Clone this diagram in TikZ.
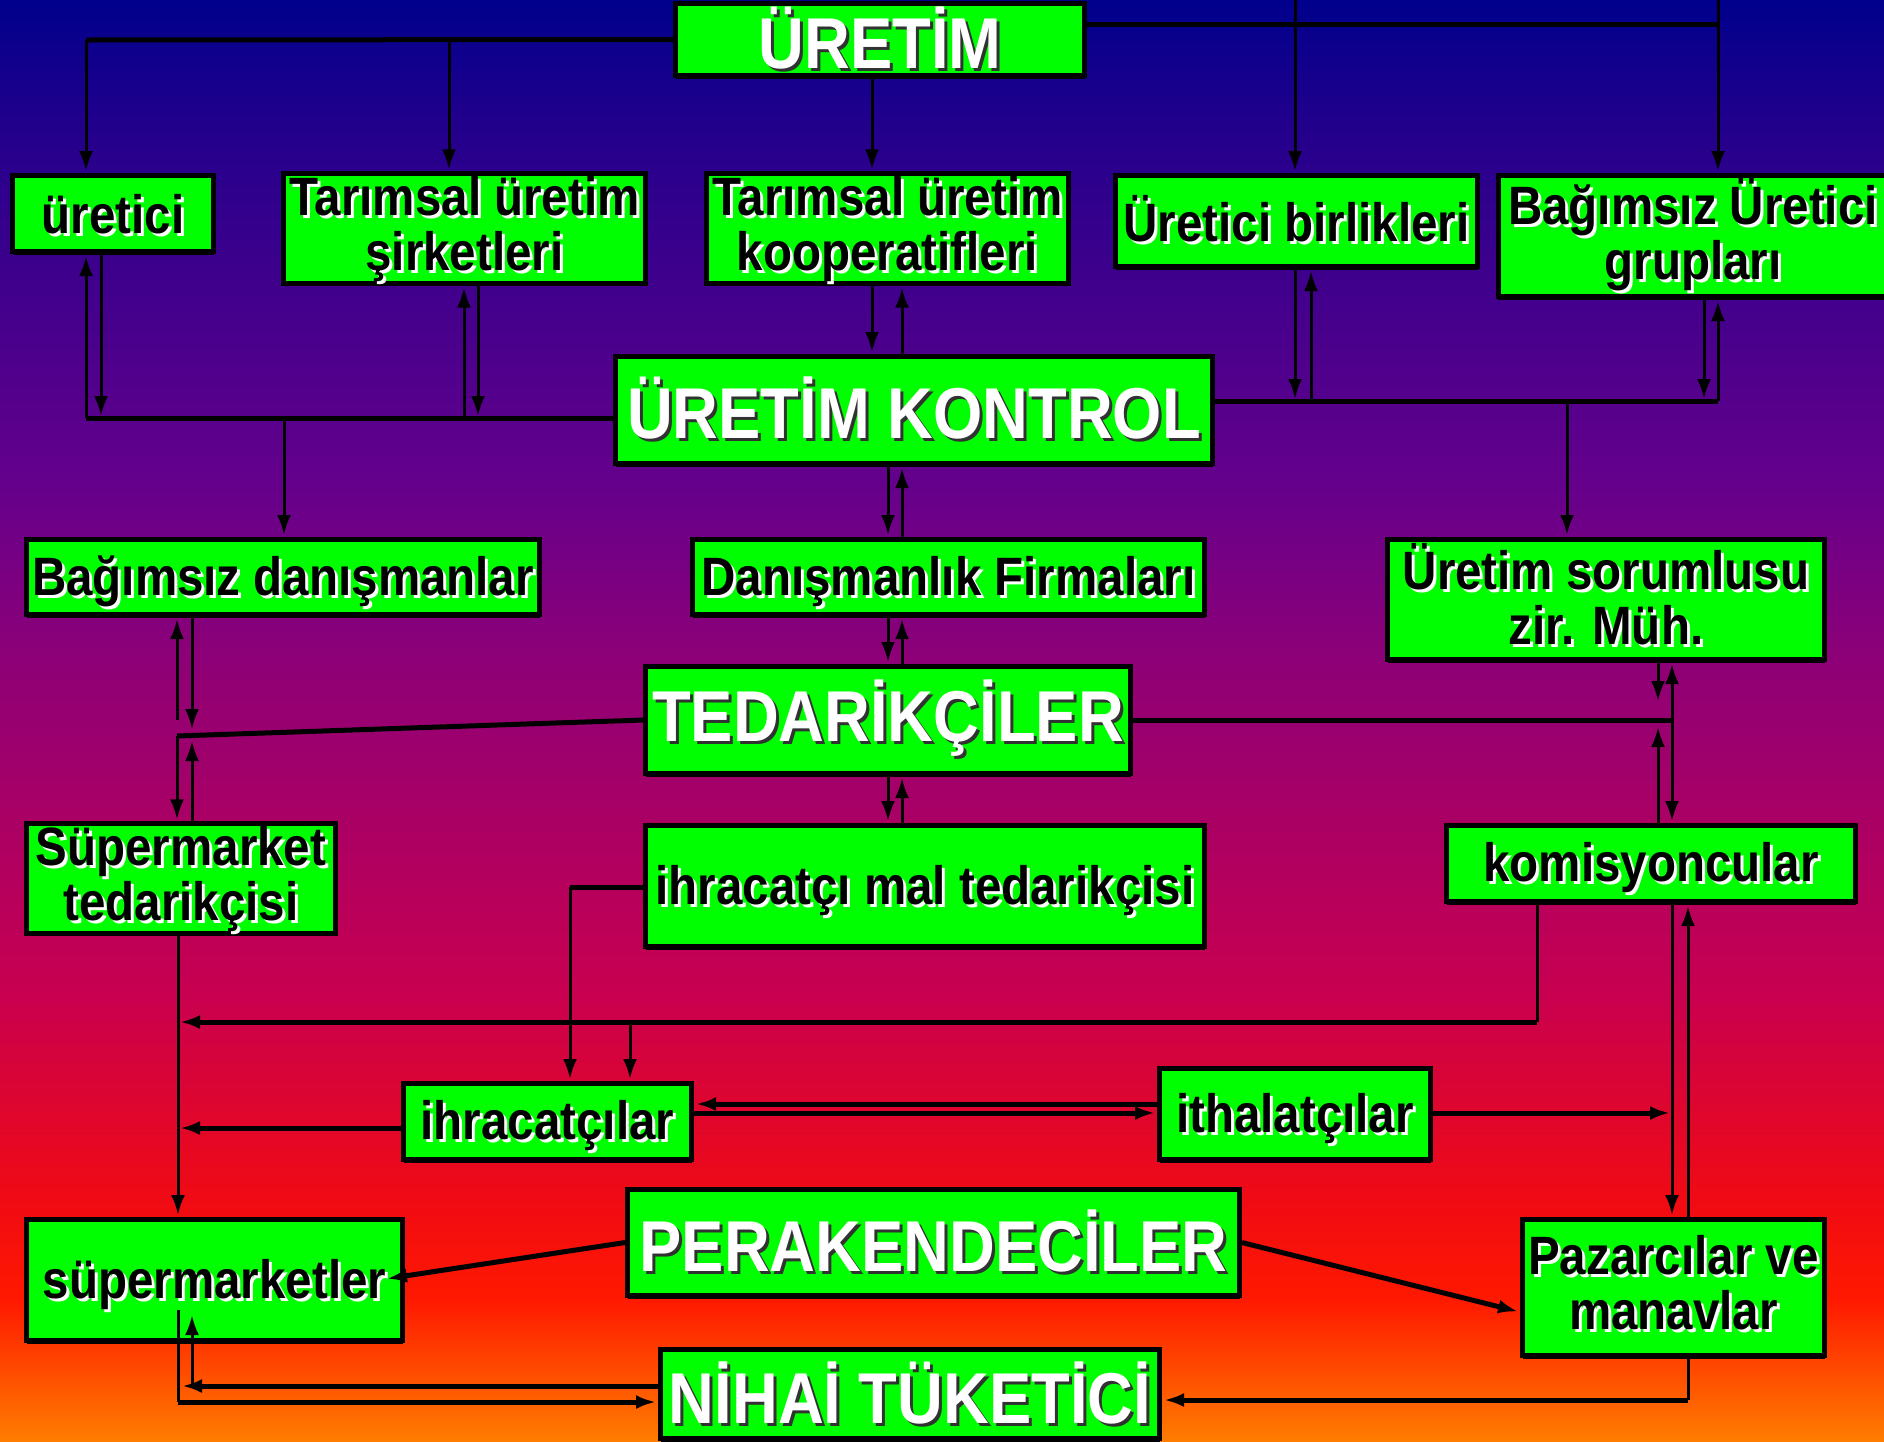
\documentclass[tikz,border=0pt]{standalone}
\usepackage{fontspec}
\setmainfont{Liberation Sans}[FakeStretch=0.88]
\usetikzlibrary{arrows.meta,shadows}

\definecolor{boxgreen}{RGB}{0,255,0}
\definecolor{shadowgray}{RGB}{50,50,50}
\definecolor{bgA}{RGB}{0,0,140}
\definecolor{bgB}{RGB}{35,0,140}
\definecolor{bgC}{RGB}{100,0,140}
\definecolor{bgD}{RGB}{140,0,120}
\definecolor{bgE}{RGB}{200,0,80}
\definecolor{bgF}{RGB}{240,10,20}
\definecolor{bgG}{RGB}{255,25,0}
\definecolor{bgH}{RGB}{255,125,0}

\pgfdeclareverticalshading{bgfade}{100bp}{color(0bp)=(bgH); color(25bp)=(bgH);
  color(29.9bp)=(bgG); color(33.4bp)=(bgF); color(40.6bp)=(bgE); color(52.4bp)=(bgD);
  color(58.3bp)=(bgC); color(70.5bp)=(bgB); color(75bp)=(bgA); color(100bp)=(bgA)}

% text with a shadow
\newcommand{\blk}[1]{\rlap{\kern3pt\raisebox{-3pt}{\color{white}#1}}#1}
\newcommand{\wht}[1]{\rlap{\kern3pt\raisebox{-3pt}{\color{shadowgray}#1}}{\color{white}#1}}
% last line of a two-line box, with a shorter depth
\newcommand{\bt}[1]{\raisebox{0pt}[\height][7pt]{\blk{#1}}}

\begin{document}
\begin{tikzpicture}[x=1pt,y=-1pt,
    box/.style={draw=black,line width=5pt,fill=boxgreen,inner sep=2pt,align=center,
      drop shadow={shadow xshift=0pt,shadow yshift=-3pt,opacity=1,fill=black}},
    lbl/.style={box,font=\fontsize{54}{55}\selectfont\bfseries,
      execute at begin node={\rule{0pt}{51pt}},
      execute at end node={\rule[-11pt]{0pt}{0pt}}},
    ttl/.style={box,font=\fontsize{72}{76}\selectfont\bfseries},
    wire/.style={line width=3pt},
    bus/.style={line width=5pt},
    arr/.style={-{Latex[length=20pt,width=14pt]},shorten >=2pt}]

    \useasboundingbox (0,0) rectangle (1884,1441);
    \shade[shading=bgfade] (0,0) rectangle (1884,1441);

    % boxes
    \node[ttl,minimum width=409pt,minimum height=72pt] (uretim) at (880,39.5) {\wht{ÜRETİM}};

    \node[lbl,minimum width=201pt,minimum height=76pt] (uretici) at (113,213.5) {\blk{üretici}};
    \node[lbl,minimum width=362pt,minimum height=106pt] (sirket) at (464.5,228.5) {\blk{Tarımsal üretim}\\\bt{şirketleri}};
    \node[lbl,minimum width=362pt,minimum height=106pt] (kooper) at (887.5,228.5) {\blk{Tarımsal üretim}\\\bt{kooperatifleri}};
    \node[lbl,minimum width=362pt,minimum height=91pt] (birlik) at (1296.5,221) {\blk{Üretici birlikleri}};
    \node[lbl,minimum width=390pt,minimum height=121pt] (grup) at (1693,236) {\blk{Bağımsız Üretici}\\\blk{grupları}};

    \node[ttl,minimum width=597pt,minimum height=107pt] (kontrol) at (914,410) {\wht{ÜRETİM KONTROL}};

    \node[lbl,minimum width=513pt,minimum height=75pt] (bagdan) at (283,577) {\blk{Bağımsız danışmanlar}};
    \node[lbl,minimum width=512pt,minimum height=75pt] (danfirma) at (948.5,577) {\blk{Danışmanlık Firmaları}};
    \node[lbl,minimum width=437pt,minimum height=120pt] (sorumlu) at (1606,599.5) {\blk{Üretim sorumlusu}\\\blk{zir. Müh.}};

    \node[ttl,minimum width=485pt,minimum height=107pt] (tedarik) at (888,720) {\wht{TEDARİKÇİLER}};

    \node[lbl,minimum width=309pt,minimum height=106pt] (suptedarik) at (181,878.5) {\blk{Süpermarket}\\\bt{tedarikçisi}};
    \node[lbl,minimum width=559pt,minimum height=121pt] (ihrmal) at (925,886) {\blk{ihracatçı mal tedarikçisi}};
    \node[lbl,minimum width=409pt,minimum height=76pt] (komisyon) at (1651,863.5) {\blk{komisyoncular}};

    \node[lbl,minimum width=288pt,minimum height=76pt] (ihracat) at (547.5,1121.5) {\blk{ihracatçılar}};
    \node[lbl,minimum width=271pt,minimum height=91pt] (ithalat) at (1295,1114) {\blk{ithalatçılar}};

    \node[ttl,minimum width=612pt,minimum height=106pt] (perakende) at (933.5,1242.5) {\wht{PERAKENDECİLER}};
    \node[lbl,minimum width=376pt,minimum height=121pt] (supmarket) at (214.5,1280) {\blk{süpermarketler}};
    \node[lbl,minimum width=302pt,minimum height=136pt] (pazarci) at (1673.5,1287.5) {\blk{Pazarcılar ve}\\\blk{manavlar}};

    \node[ttl,minimum width=499pt,minimum height=89pt] (nihai) at (910,1394) {\wht{NİHAİ TÜKETİCİ}};

    % from URETIM
    \draw[bus] (uretim.west) -- (86,40);
    \draw[wire,arr] (86,40) -- (uretici.north -| 86,0);
    \draw[wire,arr] (449,40) -- (sirket.north -| 449,0);
    \draw[wire,arr] (uretim.south -| 872,0) -- (kooper.north -| 872,0);
    \draw[bus] (uretim.east |- 0,24) -- (1718,24);
    \draw[wire,arr] (1295,0) -- (birlik.north -| 1295,0);
    \draw[wire,arr] (1718,0) -- (grup.north -| 1718,0);

    % left group
    \draw[bus] (86,418) -- (kontrol.west |- 0,418);
    \draw[wire,arr] (86,418) -- (uretici.south -| 86,0);
    \draw[wire,arr] (uretici.south -| 101,0) -- (101,418);
    \draw[wire,arr] (464,418) -- (sirket.south -| 464,0);
    \draw[wire,arr] (sirket.south -| 478,0) -- (478,418);
    \draw[wire,arr] (284,418) -- (bagdan.north -| 284,0);

    % centre column
    \draw[wire,arr] (kooper.south -| 872,0) -- (kontrol.north -| 872,0);
    \draw[wire,arr] (kontrol.north -| 902,0) -- (kooper.south -| 902,0);
    \draw[wire,arr] (kontrol.south -| 888,0) -- (danfirma.north -| 888,0);
    \draw[wire,arr] (danfirma.north -| 902,0) -- (kontrol.south -| 902,0);
    \draw[wire,arr] (danfirma.south -| 888,0) -- (tedarik.north -| 888,0);
    \draw[wire,arr] (tedarik.north -| 902,0) -- (danfirma.south -| 902,0);
    \draw[wire,arr] (tedarik.south -| 888,0) -- (ihrmal.north -| 888,0);
    \draw[wire,arr] (ihrmal.north -| 902,0) -- (tedarik.south -| 902,0);

    % right group
    \draw[bus] (kontrol.east |- 0,401) -- (1718,401);
    \draw[wire,arr] (birlik.south -| 1295,0) -- (1295,401);
    \draw[wire,arr] (1311,401) -- (birlik.south -| 1311,0);
    \draw[wire,arr] (grup.south -| 1704,0) -- (1704,401);
    \draw[wire,arr] (1718,401) -- (grup.south -| 1718,0);
    \draw[wire,arr] (1567,401) -- (sorumlu.north -| 1567,0);

    % TEDARIKCILER
    \draw[bus] (tedarik.east) -- (1672,720);
    \draw[wire,arr] (sorumlu.south -| 1658,0) -- (1658,703);
    \draw[wire,arr] (komisyon.north -| 1658,0) -- (1658,725);
    \draw[wire,arr] (1672,720) -- (sorumlu.south -| 1672,0);
    \draw[wire,arr] (1672,720) -- (komisyon.north -| 1672,0);
    \draw[bus] (tedarik.west) -- (177,736);
    \draw[wire,arr] (177,720) -- (bagdan.south -| 177,0);
    \draw[wire,arr] (bagdan.south -| 192,0) -- (192,731);
    \draw[wire,arr] (177,736) -- (suptedarik.north -| 177,0);
    \draw[wire,arr] (suptedarik.north -| 192,0) -- (192,739);

    % lower part
    \draw[wire,arr] (suptedarik.south -| 178,0) -- (supmarket.north -| 178,0);
    \draw[wire] (komisyon.south -| 1537,0) -- (1537,1022);
    \draw[bus,arr] (1537,1022) -- (178,1022);
    \draw[bus] (ihrmal.west |- 0,887) -- (570,887);
    \draw[wire,arr] (570,887) -- (ihracat.north -| 570,0);
    \draw[wire,arr] (630,1022) -- (ihracat.north -| 630,0);
    \draw[bus,arr] (ihracat.west |- 0,1128) -- (178,1128);
    \draw[bus,arr] (ithalat.west |- 0,1104) -- (ihracat.east |- 0,1104);
    \draw[bus,arr] (ihracat.east |- 0,1113) -- (ithalat.west |- 0,1113);
    \draw[bus,arr] (ithalat.east |- 0,1113) -- (1672,1113);
    \draw[wire,arr] (komisyon.south -| 1672,0) -- (pazarci.north -| 1672,0);
    \draw[wire,arr] (pazarci.north -| 1688,0) -- (komisyon.south -| 1688,0);

    % PERAKENDECILER
    \coordinate (supin) at (385,1279);
    \draw[bus,arr] (perakende.west) -- (supin);
    \draw[bus,arr] (perakende.east) -- (pazarci.west |- 0,1312);

    % NIHAI TUKETICI
    \draw[wire] (pazarci.south -| 1688,0) -- (1688,1400);
    \draw[bus,arr] (1688,1400) -- (nihai.east |- 0,1400);
    \draw[wire] (178,1310) -- (178,1402);
    \draw[bus,arr] (178,1402) -- (nihai.west |- 0,1402);
    \draw[bus,arr] (nihai.west |- 0,1386) -- (180,1386);
    \draw[wire,arr] (192,1386) -- (192,1313);
\end{tikzpicture}
\end{document}
